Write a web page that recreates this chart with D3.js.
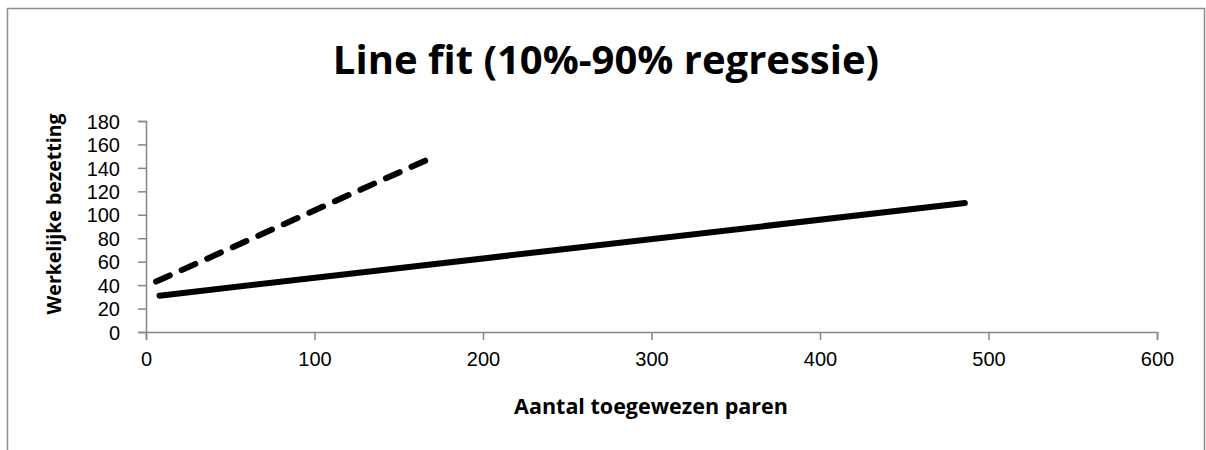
<!DOCTYPE html>
<html>
<head>
<meta charset="utf-8">
<script src="https://cdn.jsdelivr.net/npm/d3@7"></script>
<style>
  body { margin: 0; background: #fff; }
  text { font-family: "Open Sans", Lato, sans-serif; fill: #000; }
  .tick text { font-family: "Liberation Sans", Arial, sans-serif; }
</style>
</head>
<body>
<div id="chart"></div>
<script>
// fitted lines (x = aantal toegewezen paren, y = werkelijke bezetting)
var solidX = [8, 486];
var solidY = [31, 110];
var dashedX = [6, 167];
var dashedY = [43, 147];

var xTicks = [0, 100, 200, 300, 400, 500, 600];
var yTicks = [0, 20, 40, 60, 80, 100, 120, 140, 160, 180];

var title = "Line fit (10%-90% regressie)";
var xTitle = "Aantal toegewezen paren";
var yTitle = "Werkelijke bezetting";

function init(){
	var w = 1206;
	var h = 450;

	var svg = d3.select("#chart")
				.append("svg")
				.attr("width", w)
				.attr("height", h);

	// chart border
	svg.append("rect")
		.attr("x", 7.5)
		.attr("y", 8.5)
		.attr("width", 1197)
		.attr("height", 460)
		.attr("fill", "none")
		.attr("stroke", "#8c8c8c")
		.attr("stroke-width", 1.5);

	var x = d3.scaleLinear().domain([0, 600]).range([146, 1157]);
	var y = d3.scaleLinear().domain([0, 180]).range([332, 121]);

	var axisColor = "#868686";

	var gx = svg.append("g")
		.attr("transform", "translate(0," + y(0) + ")")
		.call(d3.axisBottom(x).tickValues(xTicks).tickSize(8).tickPadding(12));
	var gy = svg.append("g")
		.attr("transform", "translate(" + x(0) + ",0)")
		.call(d3.axisLeft(y).tickValues(yTicks).tickSize(8).tickPadding(18));

	[gx, gy].forEach(function(g){
		g.selectAll("path, line").attr("stroke", axisColor).attr("stroke-width", 1.5);
		g.selectAll("text").style("font-size", "20px").attr("fill", "#000");
	});
	gy.selectAll("text").attr("dy", "0.36em");

	var line = d3.line()
		.x(function(d){ return x(d[0]); })
		.y(function(d){ return y(d[1]); });

	svg.append("path")
		.datum(d3.zip(solidX, solidY))
		.attr("d", line)
		.attr("fill", "none")
		.attr("stroke", "#000")
		.attr("stroke-width", 6)
		.attr("stroke-linecap", "round");

	svg.append("path")
		.datum(d3.zip(dashedX, dashedY))
		.attr("d", line)
		.attr("fill", "none")
		.attr("stroke", "#000")
		.attr("stroke-width", 6)
		.attr("stroke-linecap", "round")
		.attr("stroke-dasharray", "15,13");

	// titles
	svg.append("text")
		.attr("x", 606)
		.attr("y", 74)
		.attr("text-anchor", "middle")
		.style("font-size", "40px")
		.style("font-weight", "bold")
		.text(title);

	svg.append("text")
		.attr("x", 651)
		.attr("y", 414)
		.attr("text-anchor", "middle")
		.style("font-size", "21.5px")
		.style("font-weight", "bold")
		.text(xTitle);

	svg.append("text")
		.attr("transform", "translate(61,214) rotate(-90)")
		.attr("text-anchor", "middle")
		.style("font-size", "19.5px")
		.style("font-weight", "bold")
		.text(yTitle);
}

window.onload = init;
</script>
</body>
</html>
